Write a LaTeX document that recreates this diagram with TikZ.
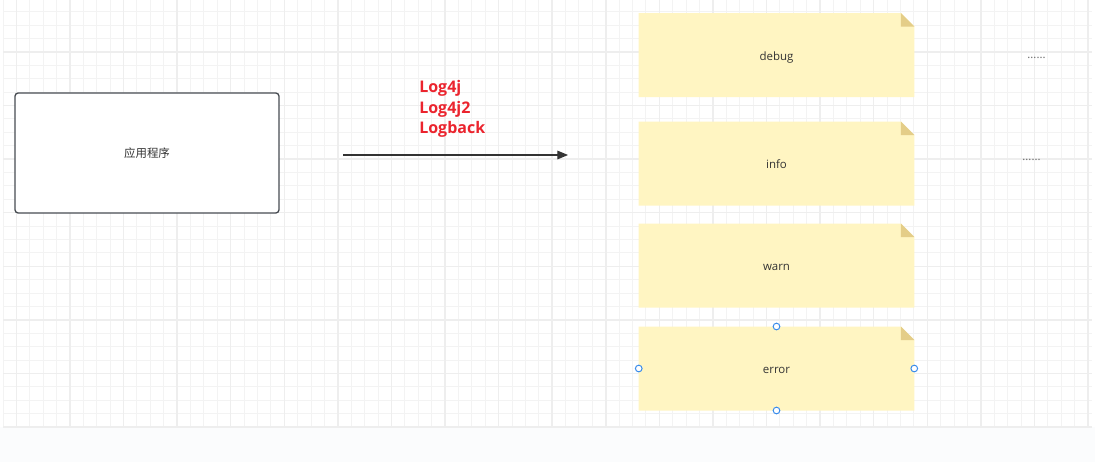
\documentclass[tikz,border=0pt]{standalone}
\usepackage{fontspec}
\setmainfont{Open Sans}
\newfontfamily\cjk{Noto Sans CJK SC}
\usetikzlibrary{arrows.meta,calc}
\definecolor{gridminor}{HTML}{F3F3F3}
\definecolor{gridmajor}{HTML}{EEEEEE}
\definecolor{bandcol}{HTML}{FBFCFD}
\definecolor{notefill}{HTML}{FFF5C2}
\definecolor{foldcol}{HTML}{E4CD88}
\definecolor{txtcol}{HTML}{333333}
\definecolor{boxline}{HTML}{474C52}
\definecolor{libred}{RGB}{235,36,46}
\definecolor{handleblue}{HTML}{3B8DEB}
\definecolor{dotcol}{HTML}{666666}
\pgfdeclarelayer{gridlayer}
\pgfdeclarelayer{notelayer}
\pgfsetlayers{gridlayer,notelayer,main}
\begin{document}
\begin{tikzpicture}[x=0.75pt,y=-0.75pt,
  notebox/.style={minimum width=206.25pt,minimum height=62.6pt,inner sep=0pt,
    text height=8pt,text depth=0pt,
    text=txtcol,font=\fontsize{8.6}{10}\selectfont},
  appbox/.style={draw=boxline,fill=white,line width=1pt,rounded corners=2.4pt,
    minimum width=198pt,minimum height=90pt,inner sep=0pt,text=txtcol},
  handle/.style={circle,draw=handleblue,fill=white,line width=0.75pt,
    minimum size=5pt,inner sep=0pt},
  dotsnode/.style={text=dotcol,font=\fontsize{8.5}{9}\selectfont,inner sep=0pt},
  conn/.style={draw=txtcol,line width=0.8pt,-{Triangle[length=8pt,width=6.5pt]}}]
\useasboundingbox (0,0) rectangle (1095,462);
% grid
\begin{pgfonlayer}{gridlayer}
  \fill[white] (0,0) rectangle (1095,462);
  \fill[bandcol] (0,427) rectangle (1095,462);
  \foreach \i in {0,...,81} {
    \draw[gridminor,line width=0.75pt] ({3.0+13.395*\i},0) -- ({3.0+13.395*\i},427);
  }
  \foreach \i in {0,...,31} {
    \draw[gridminor,line width=0.75pt] (3,{427-13.395*\i}) -- (1092,{427-13.395*\i});
  }
  \foreach \i in {0,...,20} {
    \draw[gridmajor,line width=1.1pt] ({16.4+53.58*\i},0) -- ({16.4+53.58*\i},427);
  }
  \foreach \i in {0,...,7} {
    \draw[gridmajor,line width=1.1pt] (3,{427-53.58*\i}) -- (1092,{427-53.58*\i});
  }
\end{pgfonlayer}
% application box
\node[appbox] (app) at (147,153) {\cjk\fontsize{8.6}{10}\selectfont 应用程序};
% arrow
\coordinate (as) at (343,155);
\coordinate (ae) at (568,155);
\draw[conn] (as) -- (ae);
% library labels
\node[anchor=north west,align=left,inner sep=0pt,text=libred,
  font=\bfseries\fontsize{12}{15.2}\selectfont] (libs) at (419,80.5) {Log4j\\Log4j2\\Logback};
% notes
\node[notebox] (debug) at (776.5,55) {debug};
\node[notebox] (info)  at (776.5,163.5) {info};
\node[notebox] (warn)  at (776.5,265.5) {warn};
\node[notebox] (error) at (776.5,368.5) {error};
\begin{pgfonlayer}{notelayer}
  \foreach \n in {debug,info,warn,error} {
    \fill[notefill] (\n.south west) -- (\n.north west) -- ($(\n.north east)+(-13.5,0)$)
      -- ($(\n.north east)+(0,13.5)$) -- (\n.south east) -- cycle;
    \fill[foldcol] ($(\n.north east)+(-13.5,0)$) -- ($(\n.north east)+(-13.5,13.5)$)
      -- ($(\n.north east)+(0,13.5)$) -- cycle;
  }
\end{pgfonlayer}
% selection handles on error
\node[handle] (hn) at (error.north) {};
\node[handle] (hs) at (error.south) {};
\node[handle] (hw) at (error.west) {};
\node[handle] (he) at (error.east) {};
% dots
\node[dotsnode] (dots1) at (1036.5,57.5) {......};
\node[dotsnode] (dots2) at (1031.5,160) {......};
\end{tikzpicture}
\end{document}
